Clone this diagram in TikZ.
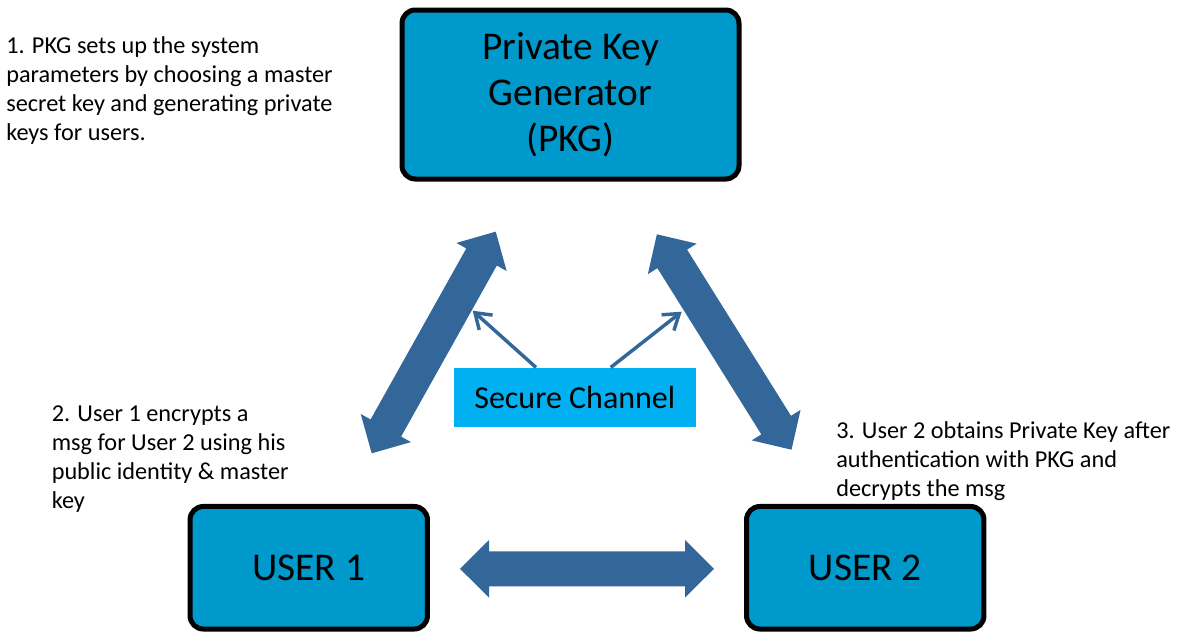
\documentclass[tikz,border=0pt]{standalone}
\usepackage{fontspec}
\setmainfont{Carlito}
\usetikzlibrary{arrows.meta,calc}
\definecolor{arrowblue}{RGB}{52,103,153}
\definecolor{boxblue}{RGB}{0,153,204}
\definecolor{chanblue}{RGB}{0,176,240}
\begin{document}
\begin{tikzpicture}[x=0.75pt,y=-0.75pt,
  entity/.style={draw=black,line width=3.75pt,fill=boxblue,rounded corners=10pt,
    inner sep=0pt,align=center,font=\fontsize{29.5pt}{34.5pt}\selectfont},
  note/.style={align=left,anchor=north west,inner sep=0pt,
    font=\fontsize{18.2pt}{21.75pt}\selectfont},
  thinarrow/.style={draw=arrowblue,line width=2.6pt,
    -{Straight Barb[length=11pt,width=15pt]}},
  pics/dblarrow/.style={code={
    \fill[arrowblue] (-127,0) -- (-98,28.8) -- (-98,17.5) -- (98,17.5) -- (98,28.8)
      -- (127,0) -- (98,-28.8) -- (98,-17.5) -- (-98,-17.5) -- (-98,-28.8) -- cycle;}}
]
\useasboundingbox (0,0) rectangle (1182,632);

% main entities
\node[entity,minimum width=252.75pt,minimum height=126.75pt] (pkg) at (570.5,94.5)
  {Private Key\\Generator\\(PKG)};
\node[entity,minimum width=178.1pt,minimum height=91.9pt] (u1) at (308.75,567.75) {USER 1};
\node[entity,minimum width=178.1pt,minimum height=91.9pt] (u2) at (865.25,567.75) {USER 2};

% big double arrows
\pic[rotate=60.77] at (433.7,342.5) {dblarrow};
\pic[rotate=-57.99] at (724.2,342) {dblarrow};
\pic at (587,568.8) {dblarrow};

% secure channel
\node[fill=chanblue,minimum width=181.3pt,minimum height=44.25pt,inner sep=0pt,
  font=\fontsize{24pt}{28pt}\selectfont] (sc) at (574.8,397.2) {Secure Channel};
\coordinate (lt) at (472.7,310.7);
\coordinate (rt) at (681.7,311.7);
\draw[thinarrow] ($(sc.north)+(-38.8,0)$) -- (lt);
\draw[thinarrow] ($(sc.north)+(35.9,0)$) -- (rt);

% annotations
\node[note] (n1) at (6,36) {1. PKG sets up the system\\parameters by choosing a master\\secret key and generating private\\keys for users.};
\node[note] (n2) at (51.5,405) {2. User 1 encrypts a\\msg for User 2 using his\\public identity \& master\\key};
\node[note] (n3) at (836,421.7) {3. User 2 obtains Private Key after\\authentication with PKG and\\decrypts the msg};
\end{tikzpicture}
\end{document}
